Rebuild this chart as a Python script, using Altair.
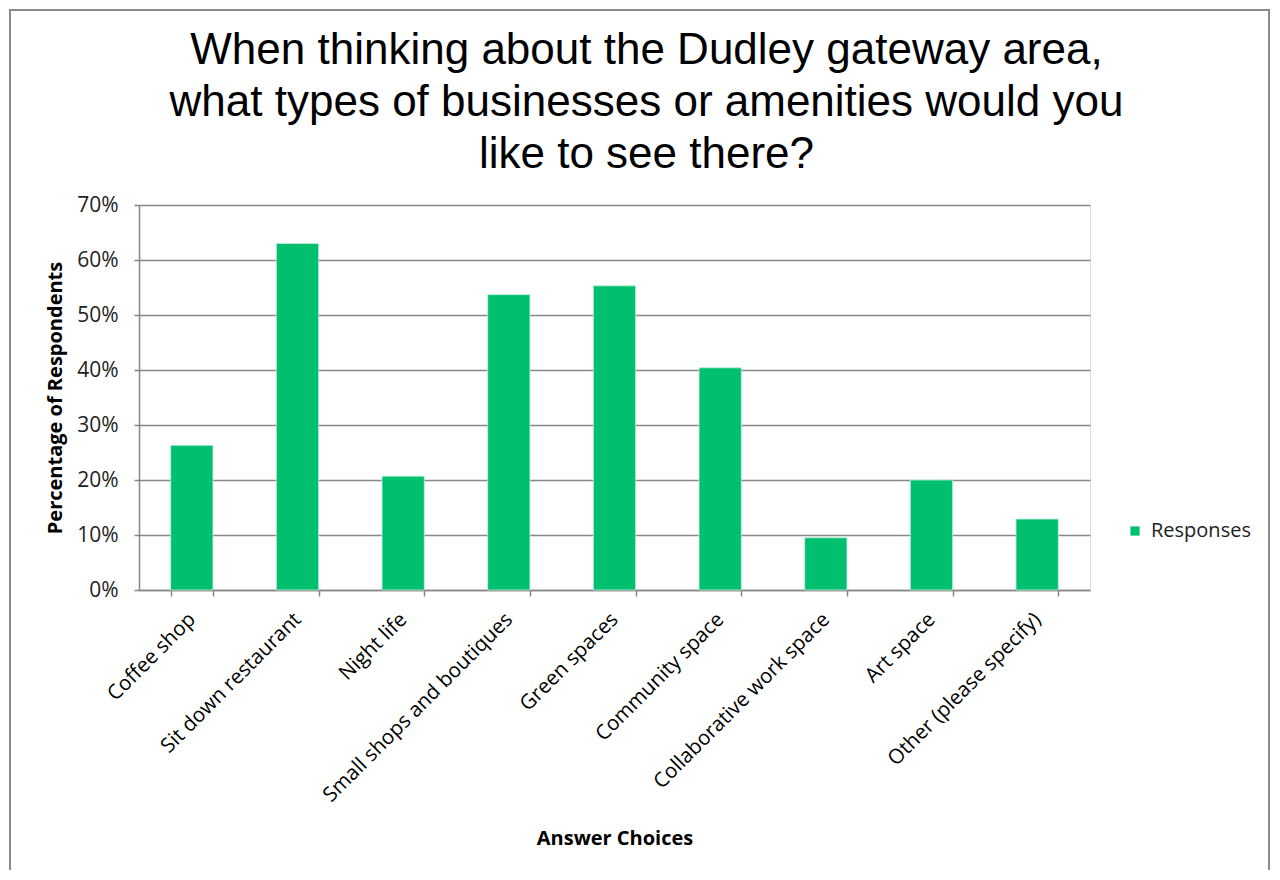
import altair as alt
import pandas as pd

categories = [
    "Coffee shop",
    "Sit down restaurant",
    "Night life",
    "Small shops and boutiques",
    "Green spaces",
    "Community space",
    "Collaborative work space",
    "Art space",
    "Other (please specify)",
]
values = [26.3, 63.0, 20.7, 53.7, 55.3, 40.4, 9.5, 20.0, 12.9]
series_name = "Responses"
y_ticks = [0, 0.1, 0.2, 0.3, 0.4, 0.5, 0.6, 0.7]
title_lines = [
    "When thinking about the Dudley gateway area,",
    "what types of businesses or amenities would you",
    "like to see there?",
]

df = pd.DataFrame({
    "choice": categories,
    "pct": [v / 100 for v in values],
    "series": [series_name] * len(categories),
})

LABEL_FONT = "Open Sans"
GRAY = "#878787"

bars = alt.Chart(df).mark_bar(stroke="#bff0da", strokeWidth=0.8).encode(
    x=alt.X(
        "choice:N",
        sort=categories,
        scale=alt.Scale(paddingInner=0.6, paddingOuter=0.3),
        axis=alt.Axis(
            title="Answer Choices",
            labelAngle=-45,
            labelAlign="right",
            labelBaseline="middle",
            labelFontSize=20.5,
            labelFont=LABEL_FONT,
            labelColor="black",
            labelPadding=20,
            tickBand="extent",
            tickSize=6,
            tickColor=GRAY,
            tickWidth=1.5,
            domainColor=GRAY,
            domainWidth=1.5,
            titleFont=LABEL_FONT,
            titleFontSize=20,
            titleFontWeight="bold",
            titleColor="black",
            titlePadding=38,
            labelLimit=400,
            grid=False,
        ),
    ),
    y=alt.Y(
        "pct:Q",
        scale=alt.Scale(domain=[0, 0.7], nice=False),
        axis=alt.Axis(
            title="Percentage of Respondents",
            values=y_ticks,
            format=".0%",
            labelFontSize=21,
            labelFont=LABEL_FONT,
            labelColor="#222222",
            labelPadding=16,
            tickSize=5,
            tickColor=GRAY,
            tickWidth=1.5,
            domainColor=GRAY,
            domainWidth=1.5,
            grid=True,
            gridColor=GRAY,
            gridWidth=1.5,
            titleFont=LABEL_FONT,
            titleFontSize=20,
            titleFontWeight="bold",
            titleColor="black",
            titlePadding=11,
        ),
    ),
    color=alt.Color(
        "series:N",
        scale=alt.Scale(range=["#00BF6F"]),
        legend=alt.Legend(
            title=None,
            orient="none",
            legendX=986,
            legendY=316,
            symbolType="square",
            symbolSize=85,
            symbolStrokeWidth=0,
            labelFont=LABEL_FONT,
            labelFontSize=20,
            labelColor="#222222",
            labelOffset=6,
        ),
    ),
)

frame = alt.Chart(pd.DataFrame({"f": [0]})).mark_rect(
    fillOpacity=0, stroke="#8a8a8a", strokeWidth=2, clip=False
).encode(
    x=alt.value(-129),
    x2=alt.value(1130),
    y=alt.value(-195),
    y2=alt.value(720),
)

chart = alt.layer(frame, bars).properties(
    width=951,
    height=385,
    title=alt.TitleParams(
        text=title_lines,
        font="Liberation Sans",
        fontSize=44,
        fontWeight="normal",
        color="black",
        anchor="middle",
        baseline="top",
        lineHeight=52,
        dx=32,
        offset=-168,
    ),
    autosize=alt.AutoSizeParams(type="none"),
    padding={"left": 131, "top": 197, "right": 182, "bottom": 280},
).configure_view(stroke=None).configure(background="white")

chart.save("out.html", embed_options={"renderer": "svg", "actions": False})
